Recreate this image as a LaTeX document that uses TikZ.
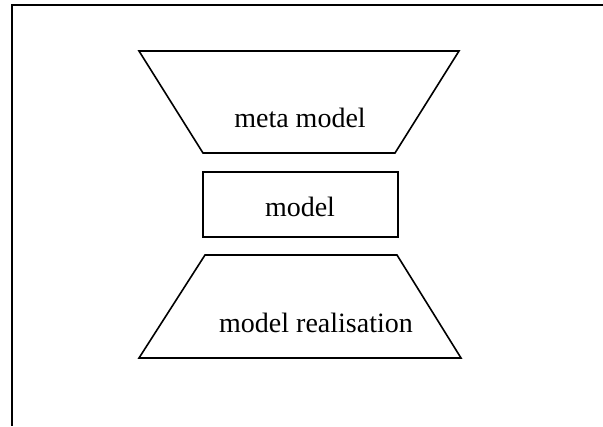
\documentclass[tikz,border=0pt]{standalone}
\usepackage{fontspec}
\setmainfont{Liberation Serif}
\begin{document}
\begin{tikzpicture}[x=1bp,y=-1bp,
  shape line/.style={line width=1.6bp, line join=miter},
  label text/.style={font=\fontsize{28bp}{32bp}\selectfont, inner sep=0pt}]
\useasboundingbox (0,0) rectangle (603,426);
% frame
\draw[shape line] (603,5) -- (12,5) -- (12,426);
% meta model trapezoid
\draw[shape line] (139,51) -- (459,51) -- (395,153) -- (203,153) -- cycle;
\node[label text] (meta) at (300,118) {meta model};
% model rectangle
\draw[shape line] (203,172) rectangle (398,237);
\node[label text] (model) at (300,207) {model};
% model realisation trapezoid
\draw[shape line] (205,255) -- (397,255) -- (461,358) -- (139,358) -- cycle;
\node[label text] (real) at (316,323) {model realisation};
\end{tikzpicture}
\end{document}
